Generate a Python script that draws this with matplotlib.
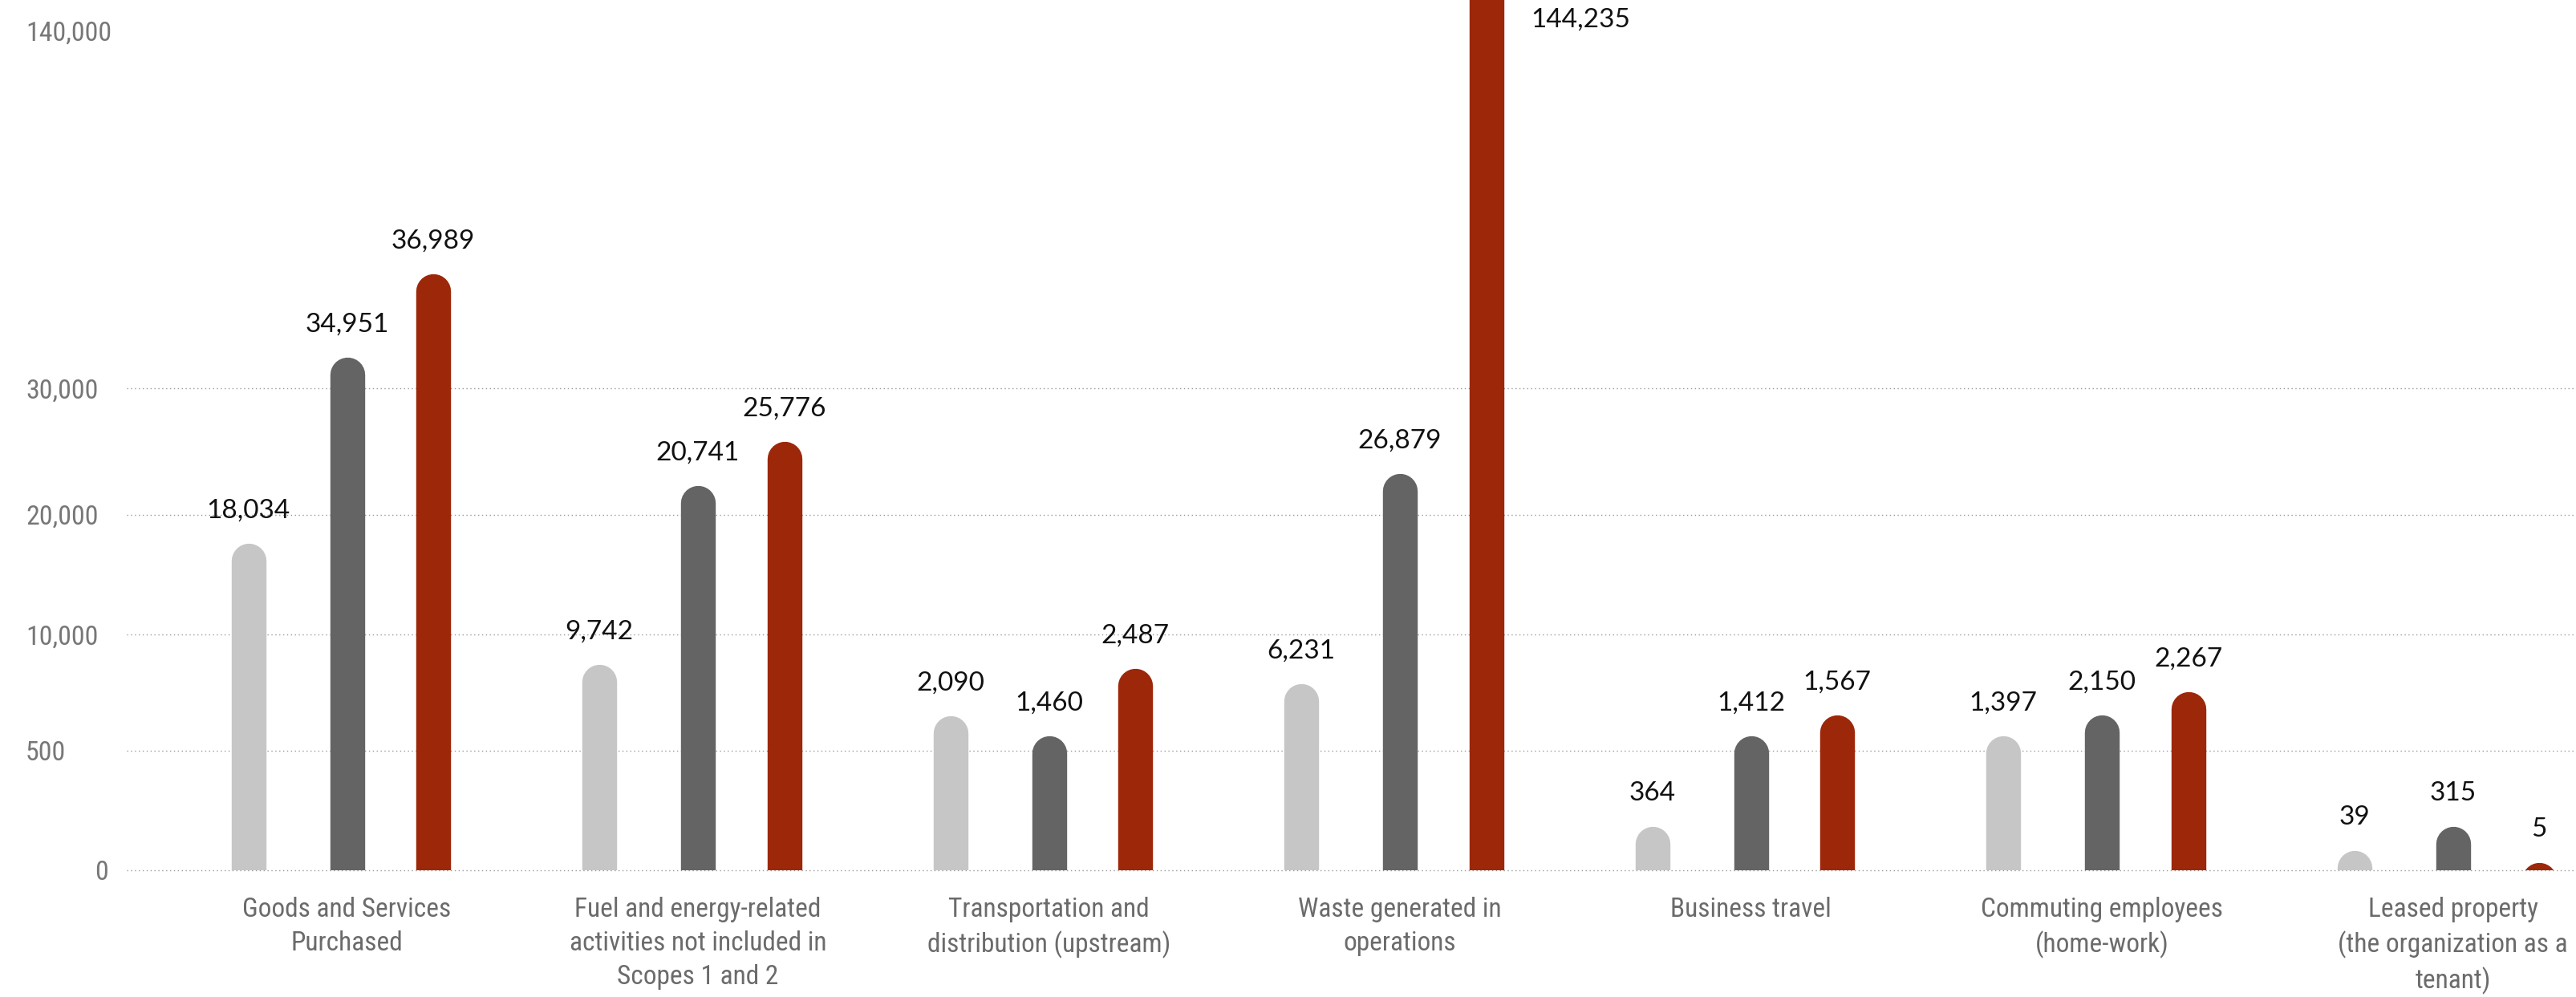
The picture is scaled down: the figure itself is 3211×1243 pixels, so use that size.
import numpy as np
import matplotlib
matplotlib.use('Agg')
from matplotlib import pyplot as plt
from matplotlib.transforms import ScaledTranslation

# ---- data ----
categories = ["Goods and Services\nPurchased",
              "Fuel and energy-related\nactivities not included in\nScopes 1 and 2",
              "Transportation and\ndistribution (upstream)",
              "Waste generated in\noperations",
              "Business travel",
              "Commuting employees\n(home-work)",
              "Leased property\n(the organization as a\ntenant)"]

# numbers printed above the bars
values_light = [18034, 9742, 2090, 6231, 364, 1397, 39]
values_dark = [34951, 20741, 1460, 26879, 1412, 2150, 315]
values_red = [36989, 25776, 2487, 144235, 1567, 2267, 5]

# bar heights as read against the (hand made, non linear) y axis
heights_light = [17625, 7576, 3383, 6003, 184, 1745, 83]
heights_dark = [39619, 22317, 1725, 23270, 1745, 3448, 184]
heights_red = [65270, 25765, 7202, 155000, 3448, 5348, 32]

ytick_values = [0, 500, 10000, 20000, 30000, 140000]
ytick_labels = ['0', '500', '10,000', '20,000', '30,000', '140,000']

# ---- style / layout ----
W, H, DPI = 3211, 1243, 100
ax_left_px, ax_bottom_px = 158, 1084.5
tick_px = [0, 148.5, 293.5, 443, 600.5, 1046.5]   # spacing of the y ticks on screen
colors = ['#c6c6c6', '#646464', '#9d2709']
offsets = [-0.281, 0.0, 0.246]
group_step_px = 437.5
first_group_px = 432.5
bar_w_px = 43.4

NARROW = ['Roboto Condensed', 'Fira Sans Condensed', 'Barlow Semi Condensed', 'DejaVu Sans']
VALUEFONT = ['Lato', 'DejaVu Sans']

kv = np.array(ytick_values, dtype=float)
kp = np.array(tick_px, dtype=float)
lo_slope = (kp[1] - kp[0]) / (kv[1] - kv[0])
hi_slope = (kp[-1] - kp[-2]) / (kv[-1] - kv[-2])


def forward(v):
    v = np.asarray(v, dtype=float)
    out = np.interp(v, kv, kp)
    out = np.where(v > kv[-1], kp[-1] + (v - kv[-1]) * hi_slope, out)
    out = np.where(v < kv[0], v * lo_slope, out)
    return out


def inverse(p):
    p = np.asarray(p, dtype=float)
    out = np.interp(p, kp, kv)
    out = np.where(p > kp[-1], kv[-1] + (p - kp[-1]) / hi_slope, out)
    out = np.where(p < kp[0], p / lo_slope, out)
    return out


fig = plt.figure(figsize=(W / DPI, H / DPI), dpi=DPI)
ax = fig.add_axes([ax_left_px / W, 1 - ax_bottom_px / H, 1 - ax_left_px / W, ax_bottom_px / H])
ax.set_yscale('function', functions=(forward, inverse))
ytop = float(inverse(ax_bottom_px))
ax.set_ylim(0, ytop)
x0 = (ax_left_px - first_group_px) / group_step_px
x1 = (W - first_group_px) / group_step_px
ax.set_xlim(x0, x1)

idx = np.arange(len(categories))
bar_lw = bar_w_px * 72 / DPI
r_in = bar_w_px / 2 / DPI
# shift the round capped lines down by the radius so the cap top sits on the value
shifted = ax.transData + ScaledTranslation(0, -r_in, fig.dpi_scale_trans)

series = [(heights_light, values_light), (heights_dark, values_dark), (heights_red, values_red)]
for (hts, vals), c, off in zip(series, colors, offsets):
    xs = idx + off
    ax.vlines(xs, 0, hts, colors=c, linewidth=bar_lw, capstyle='round',
              transform=shifted, zorder=3)
    for x, h, v in zip(xs, hts, vals):
        txt = '{:,}'.format(v)
        if h > ytop:
            ax.annotate(txt, (x, ytop), xytext=(40, -24), textcoords='offset points',
                        ha='left', va='baseline', fontsize=24, family=VALUEFONT,
                        fontweight='normal', color='#111111', annotation_clip=False)
        else:
            ax.annotate(txt, (x, h), xytext=(0, 23), textcoords='offset points',
                        ha='center', va='baseline', fontsize=24, family=VALUEFONT,
                        fontweight='normal', color='#111111')

# y axis
ax.set_yticks(ytick_values, labels=ytick_labels)
ax.tick_params(axis='y', length=0, pad=126 * 72 / DPI, labelsize=24.5, labelcolor='#777777')
for lab in ax.get_yticklabels():
    lab.set_ha('left')
    lab.set_family(NARROW)
zero_lab = ax.yaxis.get_major_ticks()[0].label1
zero_lab.set_transform(zero_lab.get_transform() + ScaledTranslation(0.86, 0, fig.dpi_scale_trans))

# x axis
ax.set_xticks(idx, labels=categories)
ax.tick_params(axis='x', length=0, pad=24, labelsize=24, labelcolor='#6b6b6b')
for lab in ax.get_xticklabels():
    lab.set_family(NARROW)
    lab.set_linespacing(1.4)

ax.grid(axis='y', color='#999999', linestyle=(0, (1, 2.5)), linewidth=1.0)
ax.set_axisbelow(True)
glines = ax.get_ygridlines()
glines[-1].set_visible(False)
glines[0].set_clip_on(False)
for s in ax.spines.values():
    s.set_visible(False)

fig.savefig('out.png', dpi=DPI)
